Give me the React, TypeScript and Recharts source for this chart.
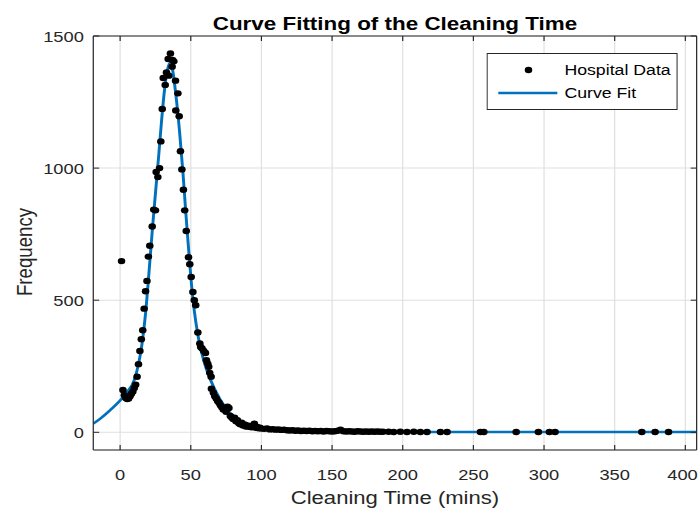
import React from "react";
import {
  ComposedChart,
  Scatter,
  Line,
  XAxis,
  YAxis,
  CartesianGrid,
  Legend,
} from "recharts";

// Hospital data: cleaning time (mins) and how often it occurred
const hospitalX = [
  1, 2, 3, 4, 5, 6, 7, 8, 9, 10, 11, 12, 13, 14, 15, 16, 17, 18, 19, 20, 21, 22.7,
  23.8, 25, 25.5, 26.7, 27.9, 28.8, 29.8, 30.5, 31.9, 32.8, 34, 34.4, 35.6, 36.8,
  37.1, 38, 39.2, 39.4, 40.9, 41.8, 42.7, 43.7, 44.8, 45.7, 46.8, 48.4, 49.3, 50.3,
  51.5, 52.5, 53.5, 55, 56.4, 57, 58, 59.2, 60.4, 61.1, 62, 62.7, 63.4, 64.4, 64.6,
  66, 67, 68, 69, 70, 71, 72, 73, 74, 75, 76, 77, 78, 79, 80, 81, 82, 83, 84, 85, 86,
  87, 88, 89, 90, 91, 92, 93, 94, 95, 96, 97, 98, 99, 100, 102, 104, 106, 108, 110,
  112, 114, 116, 118, 120, 122, 124, 126, 128, 130, 132, 134, 136, 138, 140, 142,
  144, 146, 148, 150, 152, 154, 156, 158, 160, 162, 164, 166, 168, 170, 172, 174,
  176, 178, 180, 182, 184, 186, 190, 193.6, 198.3, 203, 207.8, 212.5, 217.2, 226.7,
  231.4, 255, 257.4, 280.3, 296, 303.8, 307.8, 369.2, 378.6, 388.1,
];
const hospitalY = [
  648, 160, 140, 130, 126, 128, 136, 146, 154, 168, 180, 210, 258, 308, 352, 386, 468,
  534, 573, 665, 706, 779, 843, 840, 985, 966, 1000, 1101, 1224, 1341, 1315, 1362,
  1413, 1350, 1434, 1384, 1409, 1404, 1331, 1218, 1283, 1196, 1064, 995, 918, 840,
  762, 663, 636, 588, 531, 500, 481, 378, 336, 323, 317, 308, 300, 273, 260, 248, 225,
  210, 165, 150, 136, 128, 118, 112, 102, 95, 86, 90, 78, 97, 92, 62, 56, 50, 55, 42,
  46, 34, 30, 36, 26, 30, 22, 26, 21, 24, 19, 22, 33, 17, 20, 15, 17, 14, 13, 15, 11,
  12, 10, 11, 9, 10, 8, 7, 8, 6, 7, 5, 6, 5, 6, 4, 5, 4, 5, 3, 5, 4, 3, 4, 6, 10, 4, 3,
  4, 3, 2, 4, 3, 2, 3, 2, 3, 2, 3, 2, 2, 2, 1, 2, 1, 2, 1, 1, 1, 1, 1, 1, 1, 1, 1, 1,
  1, 1, 1,
];

// Fitted curve
const fitX = [
  -19, -14, -7, 0, 5, 10, 13, 15.5, 18, 20.5, 23, 25.5, 27.5, 29.5, 31.5, 33.5, 35.2,
  37, 39.5, 42, 44.5, 46.5, 48.5, 50.5, 52.5, 55, 59, 64, 71, 80, 92, 106, 120, 140,
  170, 220, 300, 408,
];
const fitY = [
  33, 52, 84, 120, 153, 198, 258, 335, 450, 610, 780, 935, 1060, 1190, 1300, 1372,
  1398, 1375, 1275, 1142, 980, 830, 690, 560, 460, 370, 275, 198, 122, 60, 28, 11, 6,
  3, 2, 1, 1, 1,
];

const xTicks = [0, 50, 100, 150, 200, 250, 300, 350, 400];
const yTicks = [0, 500, 1000, 1500];

const hospitalData = hospitalX.map((x, i) => ({ x, y: hospitalY[i] }));
const fitData = fitX.map((x, i) => ({ x, y: fitY[i] }));

const CHART_W = 592;
const CHART_H = 514;
const STRETCH = 699 / CHART_W;
const FONT = '"Liberation Sans", Arial, Helvetica, sans-serif';
const INK = "#262626";
const BLUE = "#0072bd";
const GRID = "#dfdfdf";
const X_DOMAIN: [number, number] = [-19, 408];
const Y_DOMAIN: [number, number] = [-67, 1500];
const TICK_FONT = 15.5;

function DataDot(props: any) {
  const { cx, cy } = props;
  if (cx == null || cy == null) return null;
  return <circle cx={cx} cy={cy} r={3.2} fill="#000" />;
}

function emptyTick() {
  return <g />;
}

// bottom tick label, kept inside the figure at the right edge
function XTickLabel(props: any) {
  const { x, y, payload } = props;
  const label = String(payload.value);
  const half = (label.length * 0.556 * TICK_FONT) / 2;
  const cx = Math.min(x, CHART_W - half - 1);
  return (
    <text
      x={cx}
      y={y}
      dy="0.71em"
      textAnchor="middle"
      fontFamily={FONT}
      fontSize={TICK_FONT}
      fill={INK}
    >
      {label}
    </text>
  );
}

function renderTitle(props: any) {
  const vb = props.viewBox || { x: 79, y: 35, width: 512, height: 0 };
  return (
    <text
      x={vb.x + vb.width / 2}
      y={vb.y - 5}
      textAnchor="middle"
      fontFamily={FONT}
      fontSize={19}
      fontWeight="bold"
      fill="#000"
    >
      Curve Fitting of the Cleaning Time
    </text>
  );
}

function renderXLabel(props: any) {
  const vb = props.viewBox || { x: 79, y: 450, width: 512, height: 64 };
  return (
    <text
      x={vb.x + vb.width / 2}
      y={vb.y + 54}
      textAnchor="middle"
      fontFamily={FONT}
      fontSize={18.7}
      fill={INK}
    >
      Cleaning Time (mins)
    </text>
  );
}

function renderYLabel(props: any) {
  const vb = props.viewBox || { x: 0, y: 35, width: 79, height: 415 };
  const x = vb.x + 27;
  const y = vb.y + vb.height / 2 + 9;
  return (
    <text
      x={x}
      y={y}
      transform={`rotate(-90 ${x} ${y})`}
      textAnchor="middle"
      fontFamily={FONT}
      fontSize={18.7}
      fill={INK}
    >
      Frequency
    </text>
  );
}

function LegendBox() {
  return (
    <svg width={162} height={57} style={{ display: "block" }}>
      <rect x={0.5} y={0.5} width={161} height={56} fill="#fff" stroke={INK} strokeWidth={1} />
      <circle cx={35.6} cy={17} r={3.2} fill="#000" />
      <line x1={10} x2={60} y1={40} y2={40} stroke={BLUE} strokeWidth={2.5} />
      <text x={66} y={22} fontFamily={FONT} fontSize={15} fill="#000">
        Hospital Data
      </text>
      <text x={66} y={45} fontFamily={FONT} fontSize={15} fill="#000">
        Curve Fit
      </text>
    </svg>
  );
}

export default function App() {
  const tickStyle = { fontSize: TICK_FONT, fill: INK, fontFamily: FONT };
  return (
    <div
      style={{
        position: "absolute",
        left: 0,
        top: 0,
        width: CHART_W,
        height: CHART_H,
        background: "#fff",
        transform: `scaleX(${STRETCH})`,
        transformOrigin: "0 0",
      }}
    >
      <ComposedChart
        width={CHART_W}
        height={CHART_H}
        margin={{ top: 35, right: 1, bottom: 0, left: 0 }}
      >
        <CartesianGrid stroke={GRID} strokeWidth={1} />
        <XAxis
          type="number"
          dataKey="x"
          domain={X_DOMAIN}
          allowDataOverflow
          ticks={xTicks}
          height={64}
          tick={<XTickLabel />}
          tickSize={-5}
          tickMargin={24}
          stroke={INK}
          tickLine={{ stroke: INK }}
          label={renderXLabel}
        />
        <XAxis
          xAxisId="top"
          orientation="top"
          type="number"
          dataKey="x"
          domain={X_DOMAIN}
          allowDataOverflow
          ticks={xTicks}
          height={1}
          tick={emptyTick}
          tickSize={-5}
          stroke={INK}
          label={renderTitle}
        />
        <YAxis
          type="number"
          dataKey="y"
          domain={Y_DOMAIN}
          allowDataOverflow
          ticks={yTicks}
          width={79}
          tick={tickStyle}
          tickSize={-5}
          tickMargin={13}
          stroke={INK}
          label={renderYLabel}
        />
        <YAxis
          yAxisId="right"
          orientation="right"
          type="number"
          dataKey="y"
          domain={Y_DOMAIN}
          allowDataOverflow
          ticks={yTicks}
          width={1}
          tick={emptyTick}
          tickSize={-5}
          stroke={INK}
        />
        <Scatter
          name="Hospital Data"
          data={hospitalData}
          yAxisId="right"
          fill="#000"
          shape={<DataDot />}
          isAnimationActive={false}
        />
        <Line
          name="Curve Fit"
          data={fitData}
          xAxisId="top"
          dataKey="y"
          type="monotone"
          stroke={BLUE}
          strokeWidth={2.5}
          dot={false}
          activeDot={false}
          isAnimationActive={false}
        />
        <Legend
          layout="horizontal"
          verticalAlign="middle"
          align="center"
          wrapperStyle={{ left: 412, top: 53, width: 162, height: 57 }}
          content={() => <LegendBox />}
        />
      </ComposedChart>
    </div>
  );
}
